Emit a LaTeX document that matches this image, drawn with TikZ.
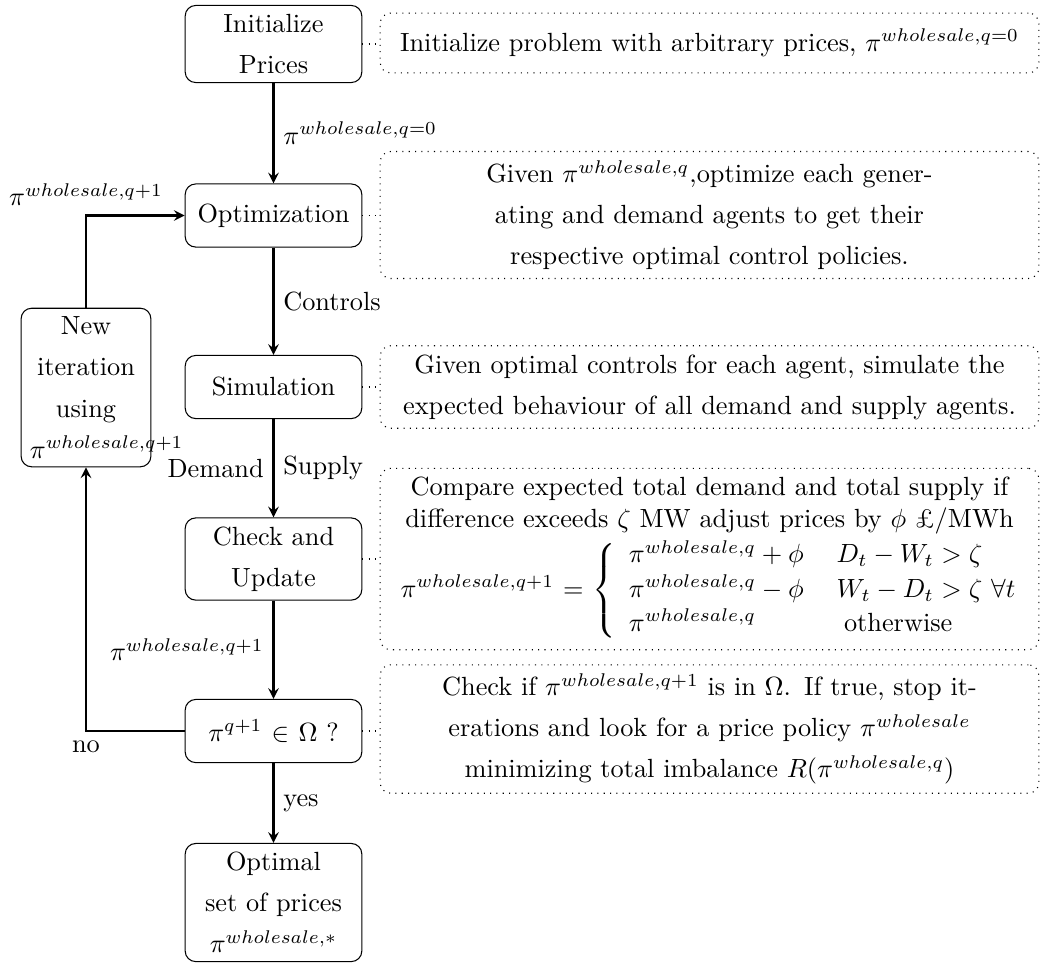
\documentclass[tikz,border=0pt]{standalone}
\usepackage{amsmath}
\usetikzlibrary{arrows}
\newlength\cwA
\begin{document}
\begin{tikzpicture}[x=0.38023pt,y=-0.38023pt,
  mainbox/.style={draw, rounded corners=4pt, text width=60.5pt, align=center,
    minimum height=24pt, inner sep=3.33pt, font=\fontsize{10}{15.6}\selectfont},
  descbox/.style={draw, dotted, rounded corners=4pt, text width=243.8pt, align=center,
    minimum height=0.8cm, inner sep=3.33pt, font=\fontsize{10}{15.6}\selectfont},
  flow/.style={-stealth, thick},
  link/.style={dotted}]
\settowidth{\cwA}{$\pi^{wholesale,q}-\phi$}
\useasboundingbox (0,0) rectangle (1041,963);

% main flow nodes
\node[mainbox] (init) at (273.5,44) {Initialize\\Prices};
\node[mainbox] (opt) at (273.5,215.5) {Optimization};
\node[mainbox] (sim) at (273.5,387) {Simulation};
\node[mainbox] (chk) at (273.5,559) {Check and\\Update};
\node[mainbox] (omega) at (273.5,731) {$\pi^{q+1}\in\Omega$ ?};
\node[mainbox] (optimal) at (273.5,902.5) {Optimal\\set of prices\\$\pi^{wholesale,*}$};
\node[mainbox, text width=42.68pt] (newit) at (86,387.5) {New\\iteration\\using\\$\pi^{wholesale,q+1}$};

% description boxes
\node[descbox] (d1) at (709.5,43) {Initialize problem with arbitrary prices, $\pi^{wholesale,q=0}$};
\node[descbox] (d2) at (709.5,215) {Given $\pi^{wholesale,q}$,optimize each gener-\\ating and demand agents to get their\\respective optimal control policies.};
\node[descbox] (d3) at (709.5,387) {Given optimal controls for each agent, simulate the\\expected behaviour of all demand and supply agents.};
\node[descbox, font=\fontsize{10}{12}\selectfont] (d4) at (709.5,559) {Compare expected total demand and total supply if\\difference exceeds $\zeta$ MW adjust prices by $\phi$ \pounds/MWh\\[1.5pt]$\pi^{wholesale,q+1} = \left\{\vcenter{%
 \hbox{\hspace{5pt}\strut\makebox[\cwA][l]{$\pi^{wholesale,q}+\phi$}\hspace{12.5pt}$D_t-W_t>\zeta$}%
 \hbox{\hspace{5pt}\strut\makebox[\cwA][l]{$\pi^{wholesale,q}-\phi$}\hspace{12.5pt}$W_t-D_t>\zeta\ \forall t$}%
 \hbox{\hspace{5pt}\strut\makebox[\cwA][l]{$\pi^{wholesale,q}$}\hspace{15.3pt}otherwise}%
 }\right.$};
\node[descbox] (d5) at (709.5,729) {Check if $\pi^{wholesale,q+1}$ is in $\Omega$. If true, stop it-\\erations and look for a price policy $\pi^{wholesale}$\\minimizing total imbalance $R(\pi^{wholesale,q})$};

% flow connectors
\draw[flow] (init) -- node[right] (l0) {$\pi^{wholesale,q=0}$} (opt);
\draw[flow] (opt) -- node[right] (lc) {Controls} (sim);
\draw[flow] (sim) -- node[left] (ld) {Demand} node[right] (ls) {Supply} (chk);
\draw[flow] (chk) -- node[left] (lq) {$\pi^{wholesale,q+1}$} (omega);
\draw[flow] (omega) -- node[right] (ly) {yes} (optimal);
\draw[flow] (omega.west) -| node[below, pos=0.5] (ln) {no} (newit.south);
\draw[flow] (newit.north) |- node[above, pos=0.5] (lt) {$\pi^{wholesale,q+1}$} (opt.west);

% dotted links to descriptions
\draw[link] (init.east) -- (init.east -| d1.west);
\draw[link] (opt.east) -- (opt.east -| d2.west);
\draw[link] (sim.east) -- (sim.east -| d3.west);
\draw[link] (chk.east) -- (chk.east -| d4.west);
\draw[link] (omega.east) -- (omega.east -| d5.west);
\end{tikzpicture}
\end{document}
